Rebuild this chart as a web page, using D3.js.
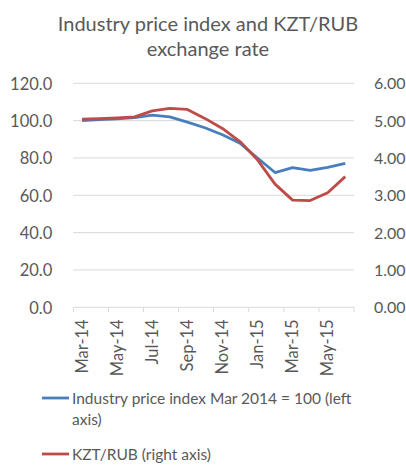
<!DOCTYPE html>
<html>
<head>
<meta charset="utf-8">
<script src="https://cdn.jsdelivr.net/npm/d3@7"></script>
<style>
  body { margin: 0; background: #fff; }
  text { font-family: Lato, "Open Sans", sans-serif; fill: #595959; }
</style>
</head>
<body>
<div id="chart"></div>
<script>
// Industry price index vs KZT/RUB
const months = ["Mar-14","Apr-14","May-14","Jun-14","Jul-14","Aug-14","Sep-14","Oct-14",
                "Nov-14","Dec-14","Jan-15","Feb-15","Mar-15","Apr-15","May-15","Jun-15"];
const priceIndex = [100, 100.5, 101, 101.6, 102.9, 102, 99.2, 96.2,
                    92.4, 87.9, 80, 72.2, 74.8, 73.4, 75, 77.1];
const kztRub = [5.04, 5.05, 5.07, 5.10, 5.26, 5.33, 5.30, 5.06,
                4.79, 4.44, 3.95, 3.30, 2.87, 2.86, 3.07, 3.50];
const leftTicks = [0, 20, 40, 60, 80, 100, 120];
const rightTicks = [0, 1, 2, 3, 4, 5, 6];

const W = 406, H = 465;
const margin = { top: 83.3, right: 52, bottom: 157.7, left: 73.3 };

const svg = d3.select("#chart").append("svg")
    .attr("width", W)
    .attr("height", H);

const x = d3.scaleBand()
    .domain(months)
    .range([margin.left, W - margin.right]);

const yL = d3.scaleLinear().domain([0, 120]).range([H - margin.bottom, margin.top]);
const yR = d3.scaleLinear().domain([0, 6]).range([H - margin.bottom, margin.top]);

// title
svg.append("text")
    .attr("x", 208).attr("y", 31)
    .attr("text-anchor", "middle")
    .style("font-size", "20px")
    .selectAll("tspan")
    .data(["Industry price index and KZT/RUB", "exchange rate"])
    .enter().append("tspan")
    .attr("x", 208)
    .attr("dy", (d, i) => i ? 25 : 0)
    .text(d => d);

// gridlines
svg.append("g")
  .selectAll("line")
  .data(leftTicks.slice(1))
  .enter().append("line")
    .attr("x1", margin.left).attr("x2", W - margin.right)
    .attr("y1", d => yL(d)).attr("y2", d => yL(d))
    .attr("stroke", "#d9d9d9")
    .attr("stroke-width", 1);

// left axis
const gL = svg.append("g")
    .attr("transform", `translate(${margin.left - 18},0)`)
    .call(d3.axisLeft(yL).tickValues(leftTicks).tickFormat(d3.format(".1f")).tickSize(0));
gL.select(".domain").remove();
gL.selectAll("text").style("font-size", "16.5px").attr("fill", "#595959").attr("dy", "0.35em");

// right axis
const gR = svg.append("g")
    .attr("transform", `translate(${W - margin.right + 17},0)`)
    .call(d3.axisRight(yR).tickValues(rightTicks).tickFormat(d3.format(".2f")).tickSize(0));
gR.select(".domain").remove();
gR.selectAll("text").style("font-size", "16px").attr("fill", "#595959").attr("dy", "0.35em");

// x axis
const gX = svg.append("g")
    .attr("transform", `translate(0,${yL(0)})`);
gX.append("line")
    .attr("x1", margin.left).attr("x2", W - margin.right)
    .attr("stroke", "#d9d9d9");
gX.selectAll(".tk")
  .data(months.filter((d, i) => i % 2 === 0).concat(["end"]))
  .enter().append("line")
    .attr("x1", (d, i) => margin.left + i * 2 * x.bandwidth())
    .attr("x2", (d, i) => margin.left + i * 2 * x.bandwidth())
    .attr("y1", 0).attr("y2", 5)
    .attr("stroke", "#d9d9d9");
gX.selectAll(".lbl")
  .data(months.filter((d, i) => i % 2 === 0))
  .enter().append("text")
    .attr("transform", d => `translate(${x(d) + x.bandwidth() / 2},12) rotate(-90)`)
    .attr("text-anchor", "end")
    .attr("dy", "0.35em")
    .style("font-size", "16.5px")
    .text(d => d);

// lines
const lineL = d3.line()
    .x((d, i) => x(months[i]) + x.bandwidth() / 2)
    .y(d => yL(d));
const lineR = d3.line()
    .x((d, i) => x(months[i]) + x.bandwidth() / 2)
    .y(d => yR(d));

svg.append("path")
    .datum(priceIndex)
    .attr("fill", "none")
    .attr("stroke", "#4a7ebb")
    .attr("stroke-width", 2.8)
    .attr("stroke-linejoin", "round")
    .attr("d", lineL);

svg.append("path")
    .datum(kztRub)
    .attr("fill", "none")
    .attr("stroke", "#be4b48")
    .attr("stroke-width", 2.8)
    .attr("stroke-linejoin", "round")
    .attr("d", lineR);

// legend
const legend = [
  { lines: ["Industry price index Mar 2014 = 100 (left", "axis)"], color: "#4a7ebb", y: 398 },
  { lines: ["KZT/RUB (right axis)"], color: "#be4b48", y: 454 }
];
const lg = svg.append("g").selectAll("g").data(legend).enter().append("g");
lg.append("line")
    .attr("x1", 42).attr("x2", 69)
    .attr("y1", d => d.y).attr("y2", d => d.y)
    .attr("stroke", d => d.color)
    .attr("stroke-width", 2.8);
lg.append("text")
    .attr("y", d => d.y)
    .style("font-size", "15.5px")
    .selectAll("tspan")
    .data(d => d.lines)
    .enter().append("tspan")
    .attr("x", 72)
    .attr("dy", (d, i) => i ? 21 : 5.5)
    .text(d => d);
</script>
</body>
</html>
